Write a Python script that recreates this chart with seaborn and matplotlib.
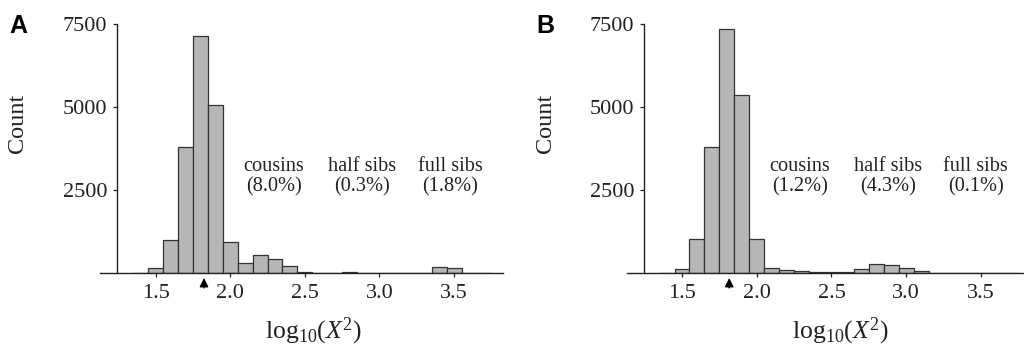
import numpy as np
import pandas as pd
import seaborn as sns
import matplotlib
matplotlib.use("Agg")
import matplotlib.pyplot as plt

# ---- data ----
bin_centers = [1.4, 1.5, 1.6, 1.7, 1.8, 1.9, 2.0, 2.1, 2.2, 2.3, 2.4, 2.5,
               2.6, 2.7, 2.8, 2.9, 3.0, 3.1, 3.2, 3.3, 3.4, 3.5, 3.6, 3.7]
counts_a = [10, 140, 990, 3790, 7140, 5070, 945, 310, 545, 410, 200, 30,
            10, 10, 20, 15, 5, 5, 5, 15, 180, 140, 15, 0]
counts_b = [15, 130, 1015, 3800, 7340, 5360, 1015, 150, 100, 70, 30, 20,
            20, 110, 280, 250, 150, 50, 10, 5, 5, 5, 5, 0]
group_names = ["cousins", "half sibs", "full sibs"]
pct_a = ["8.0%", "0.3%", "1.8%"]
pct_b = ["1.2%", "4.3%", "0.1%"]
label_x_a = [2.294, 2.884, 3.475]
label_x_b = [2.29, 2.876, 3.465]
arrow_a = 1.824
arrow_b = 1.816
panel_letters = ["A", "B"]
x_ticks = [1.5, 2.0, 2.5, 3.0, 3.5]
y_ticks = [2500, 5000, 7500]

sns.set_style("ticks")
plt.rcParams["font.family"] = ["Liberation Serif", "DejaVu Serif"]
plt.rcParams["mathtext.fontset"] = "custom"
plt.rcParams["mathtext.rm"] = "Liberation Serif"
plt.rcParams["mathtext.it"] = "Liberation Serif:italic"

W, H = 1024, 347
fig = plt.figure(figsize=(W / 100, H / 100), dpi=100)

edges = [c - 0.05 for c in bin_centers] + [bin_centers[-1] + 0.05]

panels = [
    dict(left=100, right=503, xlim=(1.127, 3.828), yaxis=1.24, counts=counts_a,
         pct=pct_a, lx=label_x_a, arrow=arrow_a, letter_x=18, count_x=18, xlab_x=313),
    dict(left=627, right=1024, xlim=(1.132, 3.788), yaxis=1.244, counts=counts_b,
         pct=pct_b, lx=label_x_b, arrow=arrow_b, letter_x=545, count_x=545, xlab_x=840),
]

bottom_px, top_px = 74, 323
for i, p in enumerate(panels):
    ax = fig.add_axes([p["left"] / W, bottom_px / H, (p["right"] - p["left"]) / W,
                       (top_px - bottom_px) / H])
    df = pd.DataFrame({"x": bin_centers, "w": p["counts"]})
    sns.histplot(data=df, x="x", weights="w", bins=edges, ax=ax,
                 color="#b6b6b6", edgecolor="#333333", linewidth=0.9, alpha=1)
    ax.set_xlim(*p["xlim"])
    ax.set_ylim(0, 7500)
    sns.despine(ax=ax)
    ax.spines["left"].set_position(("data", p["yaxis"]))
    ax.spines["left"].set_bounds(0, 7500)
    for s in ("left", "bottom"):
        ax.spines[s].set_linewidth(1.0)
        ax.spines[s].set_color("#222222")
    ax.set_xticks(x_ticks)
    ax.set_xticklabels([f"{t:.1f}" for t in x_ticks])
    ax.set_yticks(y_ticks)
    ax.set_yticklabels([str(t) for t in y_ticks])
    ax.tick_params(axis="both", labelsize=16, length=3, width=0.9, color="#222222",
                   labelcolor="#222222")
    ax.tick_params(axis="x", pad=5)
    ax.tick_params(axis="y", pad=4)
    ax.set_xlabel("")
    ax.set_ylabel("")
    for name, pc, lx in zip(group_names, p["pct"], p["lx"]):
        ax.text(lx, 2907, f"{name}\n({pc})", ha="center", va="center",
                fontsize=14.6, linespacing=1.1, color="#222222")
    ax.annotate("", xy=(p["arrow"], -0.02), xycoords=("data", "axes fraction"),
                xytext=(p["arrow"], -0.06), textcoords=("data", "axes fraction"),
                arrowprops=dict(arrowstyle="-|>", color="black", lw=1.0,
                                mutation_scale=13, shrinkA=0, shrinkB=0))
    fig.text(p["letter_x"] / W, 1 - 26 / H, panel_letters[i], fontsize=18,
             fontweight="bold", family="Liberation Sans", ha="center", va="center",
             color="black")
    fig.text(p["count_x"] / W, 1 - 123 / H, "Count", rotation=90, fontsize=17.5,
             ha="center", va="center", color="#222222")
    fig.text(p["xlab_x"] / W, 1 - 331 / H, r"$\mathrm{log}_{10}(X^{\mathrm{2}})$",
             fontsize=18.5, ha="center", va="center", color="#222222")

fig.savefig("out.png", dpi=100)
